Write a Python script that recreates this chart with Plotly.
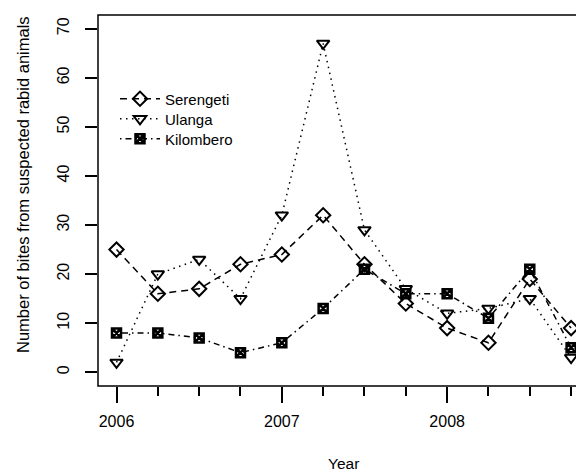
import plotly.graph_objects as go

years = [2006.0, 2006.25, 2006.5, 2006.75, 2007.0, 2007.25,
         2007.5, 2007.75, 2008.0, 2008.25, 2008.5, 2008.75]
serengeti = [25, 16, 17, 22, 24, 32, 22, 14, 9, 6, 19, 9]
ulanga = [2, 20, 23, 15, 32, 67, 29, 17, 12, 13, 15, 3]
kilombero = [8, 8, 7, 4, 6, 13, 21, 16, 16, 11, 21, 5]

x_ticks = [2006, 2007, 2008]
y_ticks = [0, 10, 20, 30, 40, 50, 60, 70]

FONT = "Liberation Sans, Arial, Helvetica, sans-serif"

# page is rendered with an 8px body margin; work in page pixels and offset
OFF = 8
W, H = 584 - OFF, 473 - OFF
L, R, T = 98 - OFF, 0, 15 - OFF
B = H - (386 - OFF)
pw, ph = W - L - R, H - T - B


def px2x(p):
    return (p - OFF - L) / pw


def py2y(p):
    return 1 - (p - OFF - T) / ph


fig = go.Figure()
fig.add_trace(go.Scatter(
    x=years, y=serengeti, name="Serengeti", mode="lines+markers",
    line=dict(color="black", width=1.5, dash="7px,5px"),
    marker=dict(symbol="diamond-open", size=11, color="black",
                line=dict(width=2, color="black")),
    cliponaxis=False, legend="legend"))
fig.add_trace(go.Scatter(
    x=years, y=ulanga, name="Ulanga", mode="lines+markers",
    line=dict(color="black", width=1.5, dash="1.5px,4.5px"),
    marker=dict(symbol="triangle-down-open", size=11, color="black",
                line=dict(width=2, color="black")),
    cliponaxis=False, legend="legend2"))
fig.add_trace(go.Scatter(
    x=years, y=kilombero, name="Kilombero", mode="lines+markers",
    line=dict(color="black", width=1.5, dash="1.5px,4px,6px,4px"),
    marker=dict(symbol="square-x-open", size=9, color="black",
                line=dict(width=2.5, color="black")),
    cliponaxis=False, legend="legend3"))


def leg(ypix):
    return dict(x=px2x(115), y=py2y(ypix), xanchor="left", yanchor="middle",
                bgcolor="rgba(0,0,0,0)", font=dict(size=15, family=FONT),
                itemwidth=40, borderwidth=0)


fig.update_layout(
    width=W, height=H,
    margin=dict(l=L, r=R, t=T, b=B, pad=0),
    plot_bgcolor="white", paper_bgcolor="white",
    font=dict(family=FONT, size=16, color="black"),
    showlegend=True,
    legend=leg(99), legend2=leg(119), legend3=leg(139),
    xaxis=dict(range=[2005.888, 2008.828], tickvals=x_ticks,
               ticktext=[str(v) for v in x_ticks],
               ticks="outside", ticklen=16, tickwidth=1.5, tickcolor="black",
               minor=dict(dtick=0.25, tick0=2006, ticks="outside", ticklen=9,
                          tickwidth=1.5, tickcolor="black", showgrid=False),
               showgrid=False, zeroline=False, showline=False,
               ticklabelstandoff=5,
               tickfont=dict(size=16, family=FONT)),
    yaxis=dict(range=[-2.8, 72.8], tickvals=y_ticks,
               ticks="outside", ticklen=12, tickwidth=1.5, tickcolor="black",
               tickangle=-90, showgrid=False, zeroline=False, showline=False,
               ticklabelstandoff=10,
               tickfont=dict(size=16, family=FONT)),
    shapes=[dict(type="rect", xref="paper", yref="paper", x0=0, x1=1.1,
                 y0=0, y1=1, line=dict(color="black", width=1.5),
                 layer="above")],
    annotations=[
        dict(text="Year", xref="paper", yref="paper", x=px2x(343), y=py2y(463),
             xanchor="center", yanchor="middle", showarrow=False,
             font=dict(size=15.5, family=FONT)),
        dict(text="Number of bites from suspected rabid animals", xref="paper",
             yref="paper", x=px2x(23), y=py2y(185), textangle=-90,
             xanchor="center", yanchor="middle", showarrow=False,
             font=dict(size=16.5, family=FONT)),
    ],
)

fig.write_html("out.html")
